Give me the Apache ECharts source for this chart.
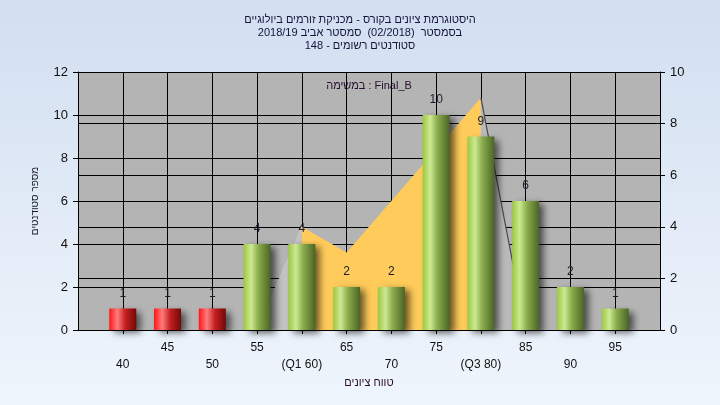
<!DOCTYPE html>
<html>
<head>
<meta charset="utf-8">
<script src="https://cdn.jsdelivr.net/npm/echarts@6/dist/echarts.min.js"></script>
<style>
html,body{margin:0;padding:0;}
#c{width:720px;height:405px;}
</style>
</head>
<body>
<div id="c"></div>
<script>
// ---- data ----
const titleLines = [
  'היסטוגרמת ציונים בקורס - מכניקת זורמים ביולוגיים',
  'בסמסטר  (02/2018)  סמסטר אביב 2018/19',
  'סטודנטים רשומים - 148'
];
const subTitle = 'במשימה : Final_B';
const xName = 'טווח ציונים';
const yName = 'מספר סטודנטים';
const scores = [40, 45, 50, 55, 60, 65, 70, 75, 80, 85, 90, 95];
const scoreLabels = ['40', '45', '50', '55', '(Q1 60)', '65', '70', '75', '(Q3 80)', '85', '90', '95'];
const counts = [1, 1, 1, 4, 4, 2, 2, 10, 9, 6, 2, 1];
const failBelow = 55;
// distribution outline (right axis)
const lowTail = [[55, 0], [60, 4]];
const iqrPart = [[60, 4], [65, 3], [80, 9]];
const highTail = [[80, 9], [85, 0]];

const FONT = '"Liberation Sans", Arial, sans-serif';
const greenGrad = new echarts.graphic.LinearGradient(0, 0, 1, 0, [
  {offset: 0, color: '#9cc840'},
  {offset: 0.28, color: '#cde992'},
  {offset: 0.55, color: '#8aac4c'},
  {offset: 1, color: '#4b6426'}
]);
const redGrad = new echarts.graphic.LinearGradient(0, 0, 1, 0, [
  {offset: 0, color: '#ff1414'},
  {offset: 0.3, color: '#ff7c7c'},
  {offset: 0.6, color: '#c42020'},
  {offset: 1, color: '#720808'}
]);

const barData = scores.map((s, i) => ({
  value: [s, counts[i]],
  itemStyle: {color: s < failBelow ? redGrad : greenGrad}
}));

const chart = echarts.init(document.getElementById('c'));
chart.setOption({
  animation: false,
  backgroundColor: new echarts.graphic.LinearGradient(0, 0, 0, 1, [
    {offset: 0, color: '#d2dff1'},
    {offset: 1, color: '#eff5fc'}
  ]),
  title: {
    text: titleLines.join('\n'),
    left: 'center',
    top: 8,
    textStyle: {fontFamily: FONT, fontSize: 11, fontWeight: 'normal', color: '#14143a', lineHeight: 13}
  },
  graphic: [{
    type: 'text',
    x: 369,
    y: 86,
    style: {text: subTitle, font: '11px ' + FONT, fill: '#24102e', align: 'center', verticalAlign: 'middle'}
  }],
  grid: {left: 78, right: 60, top: 72, bottom: 75, show: true, backgroundColor: '#b4b4b4', borderWidth: 0},
  xAxis: {
    type: 'value',
    min: 35, max: 100, interval: 5,
    name: xName,
    nameLocation: 'middle',
    nameGap: 45,
    nameTextStyle: {fontFamily: FONT, fontSize: 11, color: '#2a0a2a'},
    axisLine: {show: true, onZero: false, lineStyle: {color: '#000', width: 1}},
    axisTick: {show: true, length: 4, lineStyle: {color: '#000'}},
    splitLine: {show: true, lineStyle: {color: '#000', width: 1}},
    axisLabel: {
      fontFamily: FONT, fontSize: 12, color: '#111', margin: 9, lineHeight: 17,
      showMinLabel: false, showMaxLabel: false,
      formatter: function (v) {
        const i = scores.indexOf(v);
        if (i < 0) return '';
        return (i % 2 === 1) ? scoreLabels[i] : '\n' + scoreLabels[i];
      }
    }
  },
  yAxis: [{
    type: 'value',
    min: 0, max: 12, interval: 2,
    name: yName,
    nameLocation: 'middle',
    nameRotate: 90,
    nameGap: 38,
    nameTextStyle: {fontFamily: FONT, fontSize: 10, color: '#1a1a2a'},
    axisLine: {show: true, lineStyle: {color: '#000'}},
    axisTick: {show: true, length: 5, lineStyle: {color: '#000'}},
    splitLine: {show: true, lineStyle: {color: '#000', width: 1}},
    axisLabel: {fontFamily: FONT, fontSize: 13, color: '#111', margin: 10}
  }, {
    type: 'value',
    min: 0, max: 10, interval: 2,
    position: 'right',
    axisLine: {show: true, lineStyle: {color: '#000'}},
    axisTick: {show: true, length: 5, lineStyle: {color: '#000'}},
    splitLine: {show: true, lineStyle: {color: '#000', width: 1}},
    axisLabel: {fontFamily: FONT, fontSize: 13, color: '#111', margin: 10}
  }],
  series: [{
    type: 'line',
    yAxisIndex: 1,
    data: lowTail,
    symbol: 'none',
    lineStyle: {color: '#c8c8c8', width: 1},
    areaStyle: {color: '#c2c2c2', opacity: 1},
    z: 1
  }, {
    type: 'line',
    yAxisIndex: 1,
    data: iqrPart,
    symbol: 'none',
    lineStyle: {width: 0},
    areaStyle: {color: '#ffcb5a', opacity: 1},
    z: 1
  }, {
    type: 'line',
    yAxisIndex: 1,
    data: highTail,
    symbol: 'none',
    lineStyle: {color: '#4a4a4a', width: 1.2},
    areaStyle: {color: '#bababa', opacity: 1},
    z: 1
  }, {
    type: 'bar',
    yAxisIndex: 0,
    barWidth: 27,
    data: barData,
    z: 3,
    itemStyle: {
      shadowColor: 'rgba(0,0,0,0.6)',
      shadowBlur: 7,
      shadowOffsetX: 5,
      shadowOffsetY: 3
    },
    label: {
      show: true,
      position: 'top',
      distance: 9,
      fontFamily: FONT,
      fontSize: 12,
      color: '#1c1c2c',
      formatter: p => String(p.value[1])
    }
  }]
});
</script>
</body>
</html>
